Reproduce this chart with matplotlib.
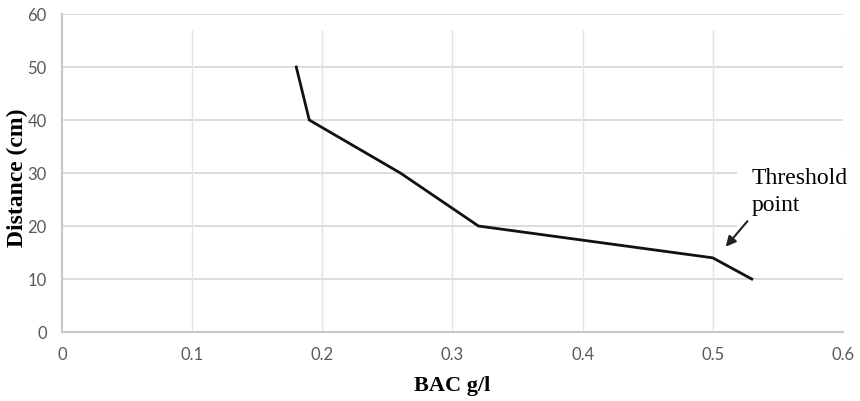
import numpy as np
import matplotlib
matplotlib.use("Agg")
import matplotlib.pyplot as plt

# BAC vs distance readings
bac = [0.18, 0.19, 0.26, 0.32, 0.50, 0.53]
distance = [50, 40, 30, 20, 14, 10]

x_ticks = [0, 0.1, 0.2, 0.3, 0.4, 0.5, 0.6]
y_ticks = [0, 10, 20, 30, 40, 50, 60]
x_tick_labels = ["0", "0.1", "0.2", "0.3", "0.4", "0.5", "0.6"]

fig = plt.figure(figsize=(8.6, 4.01), dpi=100)
ax = fig.add_axes([0.0721, 0.172, 0.908, 0.793])

ax.set_xlim(0, 0.6)
ax.set_ylim(0, 60)

# gridlines: grey horizontals, pale blue verticals
for yv in y_ticks[1:]:
    ax.axhline(yv, color="#d9d9d9", lw=1.3, zorder=1)
for xv in x_ticks[1:]:
    ax.vlines(xv, 0, 57, color="#d9e5f2", lw=1.0, zorder=1)

ax.plot(bac, distance, color="#111111", lw=2.0, zorder=3,
        solid_joinstyle="miter")

for side in ["top", "right"]:
    ax.spines[side].set_visible(False)
for side in ["left", "bottom"]:
    ax.spines[side].set_color("#c8c8c8")
    ax.spines[side].set_linewidth(1.5)

ax.set_xticks(x_ticks)
ax.set_xticklabels(x_tick_labels)
ax.set_yticks(y_ticks)
ax.tick_params(length=0, pad=11, labelsize=12, labelcolor="#595959")
for lab in ax.get_xticklabels() + ax.get_yticklabels():
    lab.set_family(["Lato", "DejaVu Sans"])

ax.set_xlabel("BAC g/l", family="Liberation Serif", fontweight="bold",
              fontsize=16, labelpad=9)
ax.set_ylabel("Distance (cm)", family="Liberation Serif", fontweight="bold",
              fontsize=17, va="center")
ax.yaxis.set_label_coords(-0.057, 0.485)

# threshold annotation
ax.text(0.5295, 31.0, "Threshold\npoint", family="Liberation Serif",
        fontsize=17, va="top", ha="left", linespacing=1.4, zorder=4,
        clip_on=False,
        bbox=dict(boxstyle="square,pad=0.6", fc="white", ec="none"))
ax.annotate("", xy=(0.5086, 15.7), xytext=(0.528, 21.3), zorder=5,
            annotation_clip=False,
            arrowprops=dict(arrowstyle="-|>,head_length=0.6,head_width=0.3",
                            color="#222222", lw=1.5))

fig.savefig("out.png", dpi=100)
